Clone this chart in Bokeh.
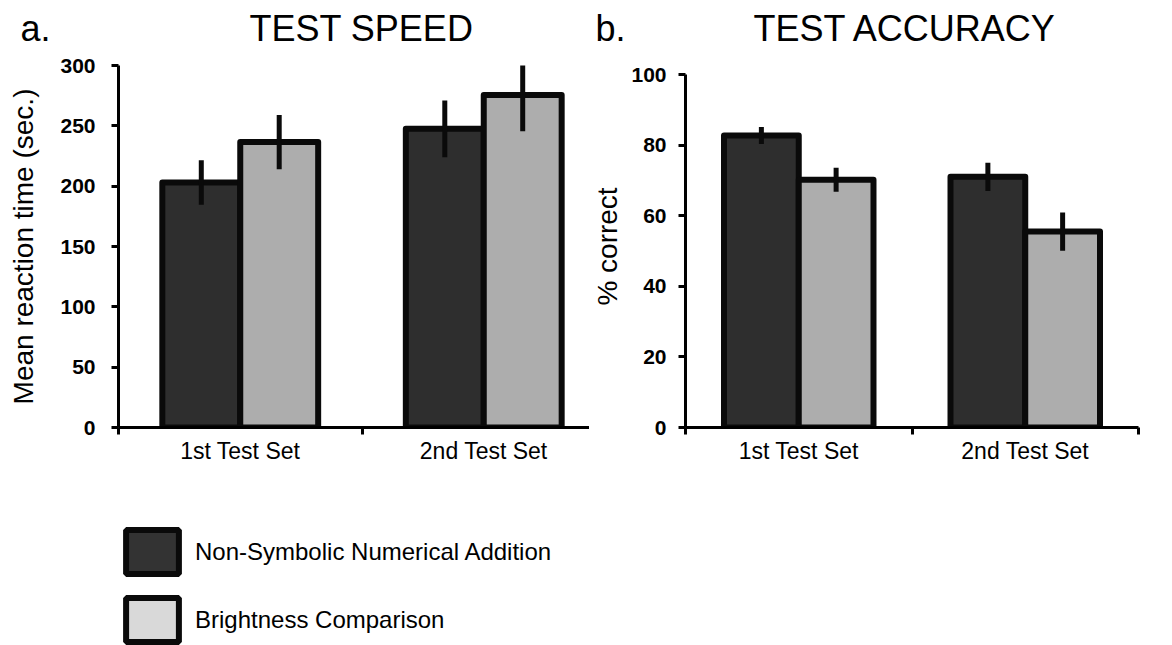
import numpy as np
from bokeh.plotting import figure
from bokeh.models import Range1d, FixedTicker, ColumnDataSource, Legend, LegendItem
from bokeh.layouts import column, row
from bokeh.embed import file_html
from bokeh.resources import INLINE
from bokeh.core.properties import value

# ---------------- data ----------------
test_sets = ["1st Test Set", "2nd Test Set"]
series = ["Non-Symbolic Numerical Addition", "Brightness Comparison"]

speed_addition = [203.0, 247.5]
speed_addition_err = [18.5, 23.5]
speed_brightness = [236.5, 275.5]
speed_brightness_err = [22.5, 30.0]

acc_addition = [82.7, 71.0]
acc_addition_err = [2.4, 4.0]
acc_brightness = [70.2, 55.5]
acc_brightness_err = [3.4, 5.4]

speed_ticks = [0, 50, 100, 150, 200, 250, 300]
acc_ticks = [0, 20, 40, 60, 80, 100]

panel_letters = ["a.", "b."]
panel_titles = ["TEST SPEED", "TEST ACCURACY"]

# ---------------- style ----------------
FONT = "Liberation Sans"
DARK = "#2e2e2e"
LIGHT = "#adadad"
LEG_DARK = "#333333"
LEG_LIGHT = "#d9d9d9"
EDGE = "#0a0a0a"
HEADER_H = 55


def panel(width, min_left, min_right, x_end, y_end, y_bounds, y_ticks, ylabel,
          a_vals, a_err, b_vals, b_err, bar_w, tick_standoff, label_standoff):
    p = figure(width=width, height=485 - HEADER_H, x_range=Range1d(0, x_end), y_range=Range1d(0, y_end),
               output_backend="svg", toolbar_location=None, title=None,
               min_border_left=min_left, min_border_right=min_right,
               min_border_top=10, min_border_bottom=58)
    p.outline_line_color = None
    p.grid.visible = False
    p.background_fill_color = "white"

    idx = np.arange(len(test_sets)) + 0.5
    a = np.array(a_vals); ae = np.array(a_err)
    b = np.array(b_vals); be = np.array(b_err)
    src = ColumnDataSource(dict(
        xa=idx - bar_w / 2, xb=idx + bar_w / 2,
        a=a, b=b, a_lo=a - ae, a_hi=a + ae, b_lo=b - be, b_hi=b + be,
    ))
    p.vbar(x="xa", top="a", bottom=0, width=bar_w, fill_color=DARK, line_color=EDGE,
           line_width=6, line_join="round", source=src)
    p.vbar(x="xb", top="b", bottom=0, width=bar_w, fill_color=LIGHT, line_color=EDGE,
           line_width=6, line_join="round", source=src)
    p.segment(x0="xa", x1="xa", y0="a_lo", y1="a_hi", line_width=5, line_color=EDGE, source=src)
    p.segment(x0="xb", x1="xb", y0="b_lo", y1="b_hi", line_width=5, line_color=EDGE, source=src)

    xa = p.xaxis[0]
    xa.ticker = FixedTicker(ticks=list(idx), minor_ticks=list(range(len(test_sets) + 1)))
    xa.major_label_overrides = {float(v): name for v, name in zip(idx, test_sets)}
    xa.major_tick_line_color = None
    xa.major_tick_out = 0
    xa.major_tick_in = 0
    xa.minor_tick_out = 7
    xa.minor_tick_in = 0
    xa.minor_tick_line_width = 3
    xa.minor_tick_line_color = "black"
    xa.axis_line_width = 3
    xa.axis_line_color = "black"
    xa.major_label_text_font = FONT
    xa.major_label_text_font_size = "23px"
    xa.major_label_text_color = "black"
    xa.major_label_standoff = 3

    ya = p.yaxis[0]
    ya.ticker = FixedTicker(ticks=y_ticks, minor_ticks=[])
    ya.bounds = y_bounds
    ya.axis_line_width = 3
    ya.axis_line_color = "black"
    ya.major_tick_out = 7
    ya.major_tick_in = 0
    ya.major_tick_line_width = 3
    ya.major_tick_line_color = "black"
    ya.minor_tick_line_color = None
    ya.major_label_text_font = FONT
    ya.major_label_text_font_size = "21px"
    ya.major_label_text_font_style = "bold"
    ya.major_label_text_color = "black"
    ya.major_label_standoff = tick_standoff
    ya.axis_label = ylabel
    ya.axis_label_text_font = FONT
    ya.axis_label_text_font_size = "28px"
    ya.axis_label_text_font_style = "normal"
    ya.axis_label_text_color = "black"
    ya.axis_label_standoff = label_standoff
    return p


# both frames share one top edge (row alignment); the accuracy axis starts lower,
# so its range is padded above 100 and the axis line is bounded at 100
left = panel(589, 118, 0, (589 - 118) / 243.5, 300, (0, 300), speed_ticks, "Mean reaction time (sec.)",
             speed_addition, speed_addition_err, speed_brightness, speed_brightness_err,
             0.32, 16, 18)
right = panel(583, 94, 34, 2, 100 * 362 / 353, (0, 100), acc_ticks, "% correct",
              acc_addition, acc_addition_err, acc_brightness, acc_brightness_err,
              0.33, 12, 5)

# ---------------- header (panel letters and titles) ----------------
hd = figure(width=1172, height=HEADER_H, x_range=Range1d(0, 1172), y_range=Range1d(0, HEADER_H),
            x_axis_type=None, y_axis_type=None, output_backend="svg", toolbar_location=None,
            title=None, min_border=0)
hd.outline_line_color = None
hd.grid.visible = False
hd.text(x=[20, 595], y=[27, 27], text=panel_letters, text_align="left", text_baseline="middle",
        text_font=value(FONT), text_font_size="36px", text_color="black")
hd.text(x=[361, 905], y=[27, 27], text=panel_titles, text_align="center",
        text_baseline="middle", text_font=value(FONT), text_font_size="36px", text_color="black")

# ---------------- legend ----------------
lg = figure(width=1172, height=160, x_range=Range1d(0, 1), y_range=Range1d(0, 1),
            x_axis_type=None, y_axis_type=None, output_backend="svg", toolbar_location=None,
            title=None, min_border=0)
lg.outline_line_color = None
lg.grid.visible = False
# legend-only renderers (hidden on the canvas, shown in the legend)
r1 = lg.vbar(x=[0.5], top=[0.5], width=0.1, fill_color=LEG_DARK, line_color=EDGE, line_width=6)
r2 = lg.vbar(x=[0.5], top=[0.5], width=0.1, fill_color=LEG_LIGHT, line_color=EDGE, line_width=6)
r1.visible = False
r2.visible = False
legend = Legend(items=[LegendItem(label=series[0], renderers=[r1]),
                       LegendItem(label=series[1], renderers=[r2])],
                location=(119, -2), orientation="vertical",
                glyph_width=66, glyph_height=55, label_height=55, label_standoff=10,
                spacing=13, padding=0, margin=0,
                border_line_alpha=0, background_fill_alpha=0,
                inactive_fill_alpha=0,
                label_text_font=FONT, label_text_font_size="24px", label_text_color="black",
                label_text_baseline="middle")
lg.add_layout(legend)

layout = column(hd, row(left, right, spacing=0), lg, spacing=0)
open("out.html", "w").write(file_html(layout, INLINE))
